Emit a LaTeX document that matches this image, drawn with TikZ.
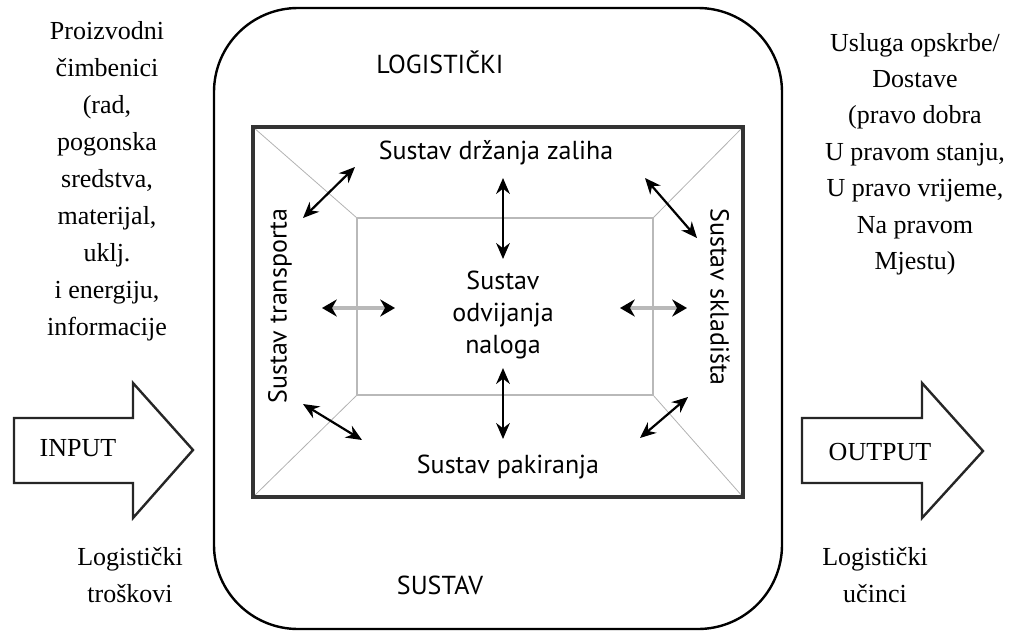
\documentclass[tikz,border=0pt]{standalone}
\usepackage{fontspec}
\setmainfont{Liberation Serif}
\newfontfamily\sysfont{PT Sans}
\usetikzlibrary{arrows.meta,positioning}
\tikzset{
    lbl/.style={font=\fontsize{13}{18.5}\selectfont, align=center, inner sep=0pt},
    syslbl/.style={font=\sysfont\fontsize{13}{16}\selectfont, align=center, inner sep=0pt},
    dbl/.style={line width=1.1pt, {Stealth[length=2.8mm,width=2.4mm]}-{Stealth[length=2.8mm,width=2.4mm]}},
    dblgray/.style={line width=2pt, draw=gray!55, {Stealth[length=2.6mm,width=3mm,black]}-{Stealth[length=2.6mm,width=3mm,black]}},
    blockarrow/.style={line width=1.2pt, draw=black!85, fill=white}
}

\begin{document}
\begin{tikzpicture}[x=0.5pt,y=-0.5pt]
            \useasboundingbox (0,0) rectangle (1013,632);

            % logisticki sustav
            \draw[line width=1.2pt, rounded corners=42pt] (214,8) rectangle (782,629);
            \node[syslbl] (logist) at (440,62) {LOGISTIČKI};
            \node[syslbl] (sustav) at (440,585) {SUSTAV};

            % okvir s podsustavima
            \coordinate (oTL) at (253,127);
            \coordinate (oTR) at (743,127);
            \coordinate (oBR) at (743,497);
            \coordinate (oBL) at (253,497);
            \coordinate (iTL) at (357,218);
            \coordinate (iTR) at (653,218);
            \coordinate (iBR) at (653,395);
            \coordinate (iBL) at (357,395);
            \draw[thin, gray!60] (oTL) -- (iTL);
            \draw[thin, gray!60] (oTR) -- (iTR);
            \draw[thin, gray!60] (oBR) -- (iBR);
            \draw[thin, gray!60] (oBL) -- (iBL);
            \draw[line width=1pt, gray!55] (iTL) rectangle (iBR);
            \draw[line width=1.6pt, black!80] (oTL) rectangle (oBR);

            \node[syslbl] (zalihe) at (496,153) {Sustav držanja zaliha};
            \node[syslbl] (pakir) at (508,467) {Sustav pakiranja};
            \node[syslbl, rotate=90] (transp) at (280,306) {Sustav transporta};
            \node[syslbl, rotate=-90] (sklad) at (720,297) {Sustav skladišta};
            \node[syslbl] (nalog) at (503,315) {Sustav\\odvijanja\\naloga};

            % strelice
            \coordinate (vt1) at (503,178);
            \coordinate (vt2) at (503,259);
            \coordinate (vb1) at (503,368);
            \coordinate (vb2) at (503,439);
            \coordinate (hl1) at (322,308);
            \coordinate (hl2) at (395,308);
            \coordinate (hr1) at (620,308);
            \coordinate (hr2) at (687,308);
            \coordinate (dtl1) at (303,218);
            \coordinate (dtl2) at (355,167);
            \coordinate (dtr1) at (645,178);
            \coordinate (dtr2) at (697,238);
            \coordinate (dbl1) at (303,404);
            \coordinate (dbl2) at (362,440);
            \coordinate (dbr1) at (640,438);
            \coordinate (dbr2) at (688,397);
            \draw[dbl] (vt1) -- (vt2);
            \draw[dbl] (vb1) -- (vb2);
            \draw[dblgray] (hl1) -- (hl2);
            \draw[dblgray] (hr1) -- (hr2);
            \draw[dbl] (dtl1) -- (dtl2);
            \draw[dbl] (dtr1) -- (dtr2);
            \draw[dbl] (dbl1) -- (dbl2);
            \draw[dbl] (dbr1) -- (dbr2);

            % ulaz
            \draw[blockarrow] (14,418) -- (133,418) -- (133,383) -- (193,450) -- (133,518) -- (133,483) -- (14,483) -- cycle;
            \node[lbl] (input) at (78,448) {INPUT};
            \node[lbl] (faktori) at (107,181) {Proizvodni\\čimbenici\\(rad,\\pogonska\\sredstva,\\materijal,\\uklj.\\i energiju,\\informacije};
            \node[lbl] (troskovi) at (130,575) {Logistički\\troškovi};

            % izlaz
            \draw[blockarrow] (802,418) -- (922,418) -- (922,383) -- (983,451) -- (922,518) -- (922,483) -- (802,483) -- cycle;
            \node[lbl] (output) at (880,452) {OUTPUT};
            \node[lbl, font=\fontsize{13}{18.2}\selectfont] (usluga) at (915,154) {Usluga opskrbe/\\Dostave\\(pravo dobra\\U pravom stanju,\\U pravo vrijeme,\\Na pravom\\Mjestu)};
            \node[lbl] (ucinci) at (875,575) {Logistički\\učinci};
\end{tikzpicture}
\end{document}
